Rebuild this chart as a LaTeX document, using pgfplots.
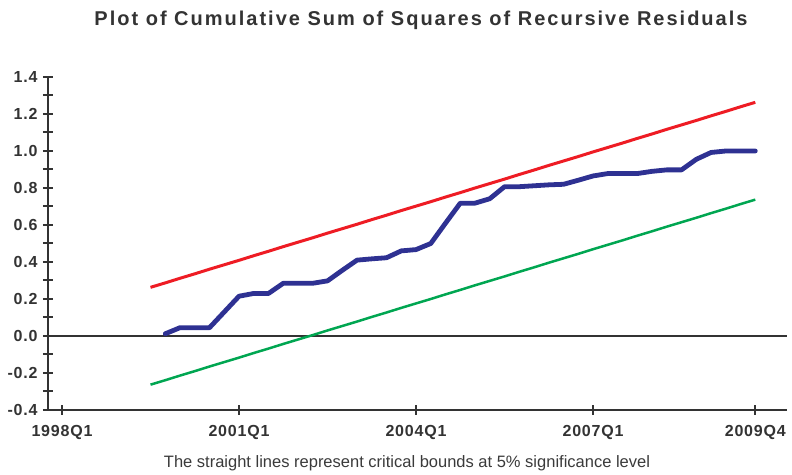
\documentclass[border=0pt]{standalone}
\usepackage{fontspec}
\setmainfont{Liberation Sans}
\newfontfamily\tickfont[LetterSpace=5]{Liberation Sans}
\newfontfamily\titlefont[LetterSpace=10]{Liberation Sans}
\usepackage{pgfplots}
\pgfplotsset{compat=1.18}
\definecolor{axgray}{HTML}{333333}
\definecolor{cusblue}{HTML}{2E3192}
\definecolor{cusred}{HTML}{EE1C24}
\definecolor{cusgreen}{HTML}{00A651}
\definecolor{foot}{HTML}{3A3A3A}
\begin{document}
\begin{tikzpicture}[x=1bp,y=1bp]
\useasboundingbox (0,0) rectangle (792,475);
\begin{axis}[
  at={(48bp,65bp)}, anchor=south west,
  scale only axis, width=739bp, height=333bp,
  xmin=-0.95, xmax=49.15, ymin=-0.4, ymax=1.4,
  axis x line*=bottom, axis y line*=left,
  axis line style={axgray, line width=2.2bp},
  tick style={axgray, line width=2bp},
  tick align=center, major tick length=10bp, minor tick length=10bp,
  xtick={0,12,24,36,47},
  xticklabels={1998Q1,2001Q1,2004Q1,2007Q1,2009Q4},
  ytick={-0.4,-0.2,0,0.2,0.4,0.6,0.8,1.0,1.2,1.4},
  yticklabels={-0.4,-0.2,0.0,0.2,0.4,0.6,0.8,1.0,1.2,1.4},
  minor ytick={-0.3,-0.1,0.1,0.3,0.5,0.7,0.9,1.1,1.3},
  ticklabel style={font=\tickfont\bfseries\fontsize{16bp}{18bp}\selectfont, text=axgray},
  xticklabel style={yshift=-7bp},
  yticklabel style={xshift=-2bp},
  clip=false,
]
\draw[axgray, line width=2.2bp] (axis cs:-0.95,0) -- (axis cs:49.15,0);
\addplot[cusred, line width=3bp, line join=round] coordinates {
(6,0.263) (7,0.287) (8,0.312) (9,0.336) (10,0.361) (11,0.385) (12,0.409)
(13,0.434) (14,0.458) (15,0.483) (16,0.507) (17,0.531) (18,0.556) (19,0.580)
(20,0.604) (21,0.629) (22,0.653) (23,0.678) (24,0.702) (25,0.726) (26,0.751)
(27,0.775) (28,0.800) (29,0.824) (30,0.848) (31,0.873) (32,0.897) (33,0.922)
(34,0.946) (35,0.970) (36,0.995) (37,1.019) (38,1.043) (39,1.068) (40,1.092)
(41,1.117) (42,1.141) (43,1.165) (44,1.190) (45,1.214) (46,1.239) (47,1.263)};
\addplot[cusgreen, line width=2.5bp, line join=round] coordinates {
(6,-0.263) (7,-0.239) (8,-0.214) (9,-0.190) (10,-0.165) (11,-0.141) (12,-0.117)
(13,-0.092) (14,-0.068) (15,-0.043) (16,-0.019) (17,0.005) (18,0.030) (19,0.054)
(20,0.078) (21,0.103) (22,0.127) (23,0.152) (24,0.176) (25,0.200) (26,0.225)
(27,0.249) (28,0.274) (29,0.298) (30,0.322) (31,0.347) (32,0.371) (33,0.396)
(34,0.420) (35,0.444) (36,0.469) (37,0.493) (38,0.517) (39,0.542) (40,0.566)
(41,0.591) (42,0.615) (43,0.639) (44,0.664) (45,0.688) (46,0.713) (47,0.737)};
\addplot[cusblue, line width=4.8bp, line join=round, line cap=round] coordinates {
(7,0.012) (8,0.045) (9,0.045) (10,0.045) (11,0.130) (12,0.215) (13,0.230)
(14,0.230) (15,0.285) (16,0.285) (17,0.285) (18,0.298) (19,0.355) (20,0.410)
(21,0.417) (22,0.423) (23,0.460) (24,0.467) (25,0.500) (26,0.610) (27,0.718)
(28,0.718) (29,0.742) (30,0.807) (31,0.807) (32,0.812) (33,0.817) (34,0.820)
(35,0.842) (36,0.865) (37,0.878) (38,0.878) (39,0.878) (40,0.890) (41,0.898)
(42,0.898) (43,0.955) (44,0.992) (45,1.000) (46,1.000) (47,1.000)};
\end{axis}
\node[text=axgray, font=\titlefont\bfseries\fontsize{20bp}{22bp}\selectfont] at (421,455) {Plot of Cumulative Sum of Squares of Recursive Residuals};
\node[text=foot, font=\fontsize{16.5bp}{18bp}\selectfont] at (407,12) {The straight lines represent critical bounds at 5\% significance level};
\end{tikzpicture}
\end{document}
